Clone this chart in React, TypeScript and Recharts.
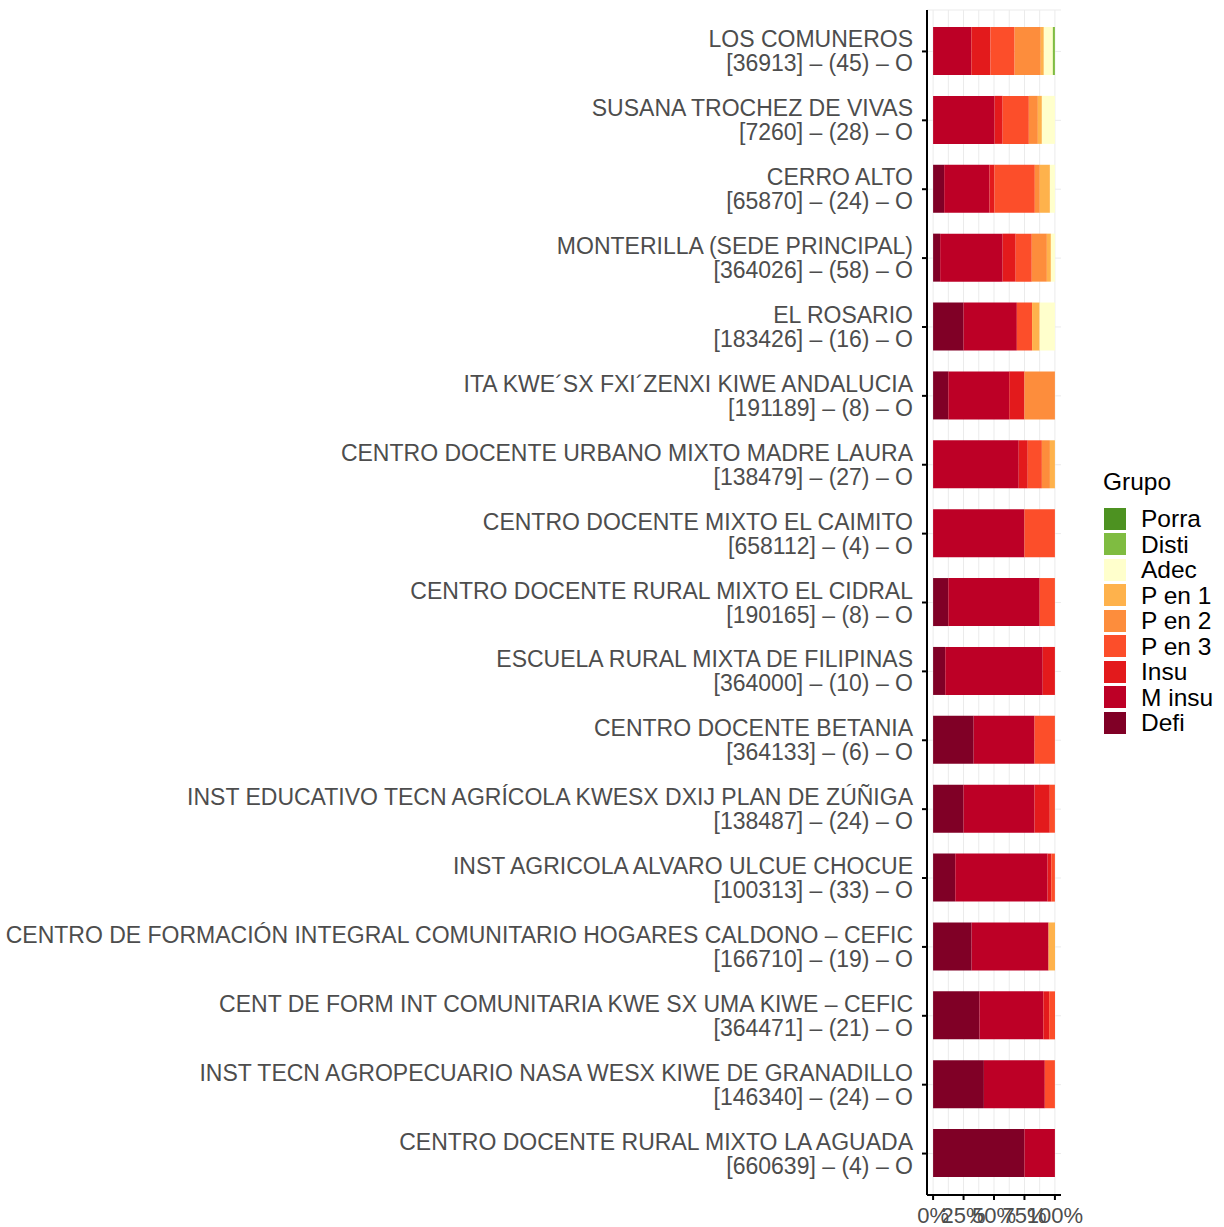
import React from "react";
import { BarChart, Bar, XAxis, YAxis, CartesianGrid } from "recharts";

// nombres de las sedes (de arriba hacia abajo)
const schools = [
  "LOS COMUNEROS",
  "SUSANA TROCHEZ DE VIVAS",
  "CERRO ALTO",
  "MONTERILLA (SEDE PRINCIPAL)",
  "EL ROSARIO",
  "ITA KWE´SX FXI´ZENXI KIWE ANDALUCIA",
  "CENTRO DOCENTE URBANO MIXTO MADRE LAURA",
  "CENTRO DOCENTE MIXTO EL CAIMITO",
  "CENTRO DOCENTE RURAL MIXTO EL CIDRAL",
  "ESCUELA RURAL MIXTA DE FILIPINAS",
  "CENTRO DOCENTE BETANIA",
  "INST EDUCATIVO TECN AGRÍCOLA KWESX DXIJ PLAN DE ZÚÑIGA",
  "INST AGRICOLA ALVARO ULCUE CHOCUE",
  "CENTRO DE FORMACIÓN INTEGRAL COMUNITARIO HOGARES CALDONO – CEFIC",
  "CENT DE FORM INT COMUNITARIA KWE SX UMA KIWE – CEFIC",
  "INST TECN AGROPECUARIO NASA WESX KIWE DE GRANADILLO",
  "CENTRO DOCENTE RURAL MIXTO LA AGUADA",
];
const codes = [36913, 7260, 65870, 364026, 183426, 191189, 138479, 658112, 190165, 364000, 364133, 138487, 100313, 166710, 364471, 146340, 660639];
const counts = [45, 28, 24, 58, 16, 8, 27, 4, 8, 10, 6, 24, 33, 19, 21, 24, 4];

// porcentajes por grupo
const defi = [0, 0, 9.1, 5.8, 25, 12.5, 0, 0, 12.5, 10, 33.3, 25, 18.2, 31.6, 38.1, 41.7, 75];
const mInsu = [31.4, 50.5, 37.2, 51.3, 43.75, 50, 70.3, 75, 75, 80, 50, 58.3, 75.8, 63.2, 52.4, 50, 25];
const insu = [15.7, 6.6, 4.1, 10.7, 0, 12.5, 7.4, 0, 0, 10, 0, 12.5, 3.0, 0, 4.8, 0, 0];
const pEn3 = [19.8, 21.5, 33.1, 13.2, 12.5, 0, 11.6, 25, 12.5, 0, 16.7, 4.2, 3.0, 0, 4.8, 8.3, 0];
const pEn2 = [21.5, 7.4, 4.1, 12.4, 0, 25, 6.6, 0, 0, 0, 0, 0, 0, 0, 0, 0, 0];
const pEn1 = [2.5, 3.3, 8.3, 3.3, 6.25, 0, 4.1, 0, 0, 0, 0, 0, 0, 5.3, 0, 0, 0];
const adec = [7.4, 10.7, 4.1, 3.3, 12.5, 0, 0, 0, 0, 0, 0, 0, 0, 0, 0, 0, 0];
const disti = [1.7, 0, 0, 0, 0, 0, 0, 0, 0, 0, 0, 0, 0, 0, 0, 0, 0];
const porra = [0, 0, 0, 0, 0, 0, 0, 0, 0, 0, 0, 0, 0, 0, 0, 0, 0];

const xTicks = [0, 25, 50, 75, 100];
const gridBreaks = [0, 12.5, 25, 37.5, 50, 62.5, 75, 87.5, 100];

// orden de apilado: de izquierda a derecha
const groups = [
  { key: "Defi", values: defi, color: "#800026" },
  { key: "M insu", values: mInsu, color: "#BD0026" },
  { key: "Insu", values: insu, color: "#E31A1C" },
  { key: "P en 3", values: pEn3, color: "#FC4E2A" },
  { key: "P en 2", values: pEn2, color: "#FD8D3C" },
  { key: "P en 1", values: pEn1, color: "#FEB24C" },
  { key: "Adec", values: adec, color: "#FFFFCC" },
  { key: "Disti", values: disti, color: "#7FBC41" },
  { key: "Porra", values: porra, color: "#4D9221" },
];

const FONT = "'Liberation Sans', Arial, sans-serif";

const data = schools.map((name, i) => {
  const row: { [k: string]: number | string } = {
    id: String(i),
    line1: name,
    line2: `[${codes[i]}] – (${counts[i]}) – O`,
  };
  groups.forEach((g) => {
    row[g.key] = g.values[i];
  });
  return row;
});

function SchoolTick(props: any) {
  const { x, y, payload } = props;
  const row = data[Number(payload.value)];
  return (
    <g>
      <text x={x - 9} y={y - 12} textAnchor="end" dominantBaseline="central" fill="#4D4D4D" fontSize={23} fontFamily={FONT}>
        {row.line1}
      </text>
      <text x={x - 9} y={y + 12} textAnchor="end" dominantBaseline="central" fill="#4D4D4D" fontSize={23} fontFamily={FONT}>
        {row.line2}
      </text>
    </g>
  );
}

export default function App() {
  return (
    <div style={{ position: "absolute", left: 0, top: 0, width: 1224, height: 1227, background: "#fff" }}>
      <BarChart
        width={1224}
        height={1227}
        data={data}
        layout="vertical"
        barSize={48}
        margin={{ top: 10, right: 163, bottom: 0, left: 0 }}
      >
        <CartesianGrid stroke="#EBEBEB" strokeWidth={1} verticalValues={gridBreaks} />
        <XAxis
          type="number"
          domain={[-5, 105]}
          ticks={xTicks}
          interval={0}
          tickFormatter={(v) => `${v}%`}
          allowDataOverflow
          height={32}
          tickSize={5}
          tickMargin={7}
          axisLine={{ stroke: "#000", strokeWidth: 2 }}
          tickLine={{ stroke: "#000", strokeWidth: 2 }}
          tick={{ fill: "#4D4D4D", fontSize: 22, fontFamily: FONT }}
        />
        <YAxis
          type="category"
          dataKey="id"
          width={927}
          padding={{ top: 7, bottom: 7 }}
          tickSize={5}
          tickMargin={0}
          interval={0}
          axisLine={{ stroke: "#000", strokeWidth: 2 }}
          tickLine={{ stroke: "#000", strokeWidth: 2 }}
          tick={<SchoolTick />}
        />
        {groups.map((g) => (
          <Bar key={g.key} dataKey={g.key} stackId="a" fill={g.color} isAnimationActive={false} />
        ))}
      </BarChart>

      {/* leyenda */}
      <div style={{ position: "absolute", left: 1103, top: 467, fontFamily: FONT, fontSize: 24.5, color: "#000" }}>
        <div style={{ height: 30, lineHeight: "30px" }}>Grupo</div>
        <div style={{ marginTop: 9 }}>
          {[...groups].reverse().map((g) => (
            <div key={g.key} style={{ display: "flex", alignItems: "center", height: 25.5 }}>
              <div style={{ width: 22, height: 22, background: g.color, marginLeft: 1, marginRight: 15, flexShrink: 0 }} />
              <span style={{ lineHeight: "25px", whiteSpace: "nowrap" }}>{g.key}</span>
            </div>
          ))}
        </div>
      </div>
    </div>
  );
}
